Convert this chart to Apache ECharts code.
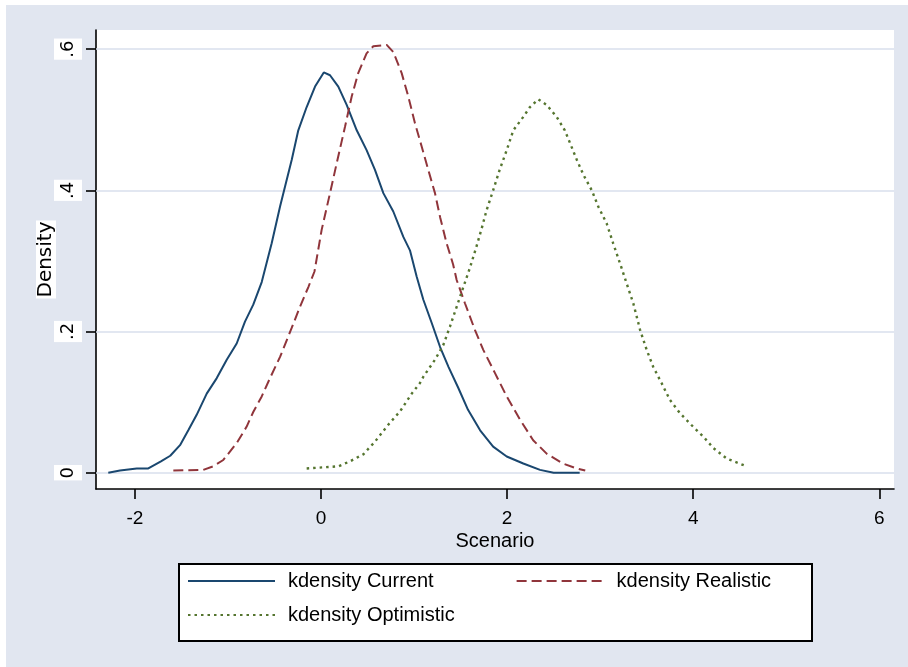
<!DOCTYPE html>
<html>
<head>
<meta charset="utf-8">
<script src="https://cdn.jsdelivr.net/npm/echarts@6/dist/echarts.min.js"></script>
<style>
html,body{margin:0;padding:0;background:#fff;}
#c{position:absolute;left:6px;top:5px;width:902px;height:662px;}
</style>
</head>
<body>
<div id="c"></div>
<script>
// ---- data ----
const seriesNames = ['kdensity Current', 'kdensity Realistic', 'kdensity Optimistic'];

const currentX = [-2.286,-2.16,-1.98,-1.856,-1.72,-1.62,-1.515,-1.426,-1.336,-1.228,-1.12,-1.013,-0.906,-0.817,-0.728,-0.637,-0.53,-0.44,-0.387,-0.315,-0.244,-0.154,-0.064,0.03,0.097,0.186,0.276,0.384,0.49,0.58,0.67,0.777,0.885,0.956,1.028,1.10,1.19,1.28,1.37,1.476,1.58,1.71,1.85,1.996,2.174,2.354,2.50,2.78];
const currentY = [0,0.003,0.006,0.006,0.016,0.024,0.039,0.060,0.082,0.112,0.134,0.160,0.183,0.214,0.238,0.270,0.325,0.377,0.405,0.443,0.485,0.518,0.547,0.567,0.563,0.547,0.521,0.485,0.457,0.429,0.396,0.370,0.334,0.315,0.278,0.245,0.212,0.178,0.150,0.120,0.089,0.060,0.037,0.023,0.013,0.004,0,0];

const realisticX = [-1.587,-1.265,-1.16,-1.05,-0.906,-0.80,-0.728,-0.637,-0.548,-0.44,-0.315,-0.226,-0.136,-0.07,0.007,0.097,0.168,0.258,0.33,0.40,0.49,0.562,0.706,0.777,0.867,0.938,1.01,1.082,1.153,1.225,1.28,1.35,1.42,1.458,1.547,1.655,1.744,1.87,1.996,2.14,2.28,2.425,2.60,2.75,2.84];
const realisticY = [0.003,0.004,0.009,0.018,0.042,0.065,0.086,0.108,0.134,0.164,0.205,0.235,0.263,0.285,0.344,0.396,0.438,0.490,0.533,0.566,0.594,0.604,0.606,0.596,0.566,0.533,0.495,0.462,0.429,0.396,0.362,0.325,0.295,0.273,0.240,0.202,0.174,0.141,0.108,0.075,0.046,0.027,0.013,0.006,0.003];

const optimisticX = [-0.154,0.186,0.31,0.455,0.58,0.723,0.85,0.975,1.064,1.10,1.225,1.315,1.386,1.458,1.53,1.60,1.67,1.727,1.78,1.85,1.92,1.996,2.067,2.174,2.246,2.335,2.425,2.533,2.62,2.676,2.75,2.82,2.91,2.98,3.07,3.14,3.23,3.285,3.356,3.43,3.50,3.57,3.66,3.75,3.86,4.0,4.11,4.216,4.36,4.575];
const optimisticY = [0.006,0.009,0.016,0.026,0.044,0.068,0.087,0.112,0.127,0.136,0.160,0.181,0.207,0.235,0.263,0.290,0.320,0.346,0.372,0.400,0.429,0.457,0.485,0.504,0.518,0.529,0.521,0.504,0.485,0.467,0.443,0.422,0.400,0.377,0.353,0.325,0.290,0.268,0.240,0.202,0.174,0.150,0.127,0.103,0.084,0.065,0.051,0.035,0.020,0.009];

const xTicks = [-2, 0, 2, 4, 6];
const xTickLabels = ['-2', '0', '2', '4', '6'];
const yTicks = [0, 0.2, 0.4, 0.6];
const yTickLabels = ['0', '.2', '.4', '.6'];
const xTitle = 'Scenario';
const yTitle = 'Density';

// ---- build ----
function pairs(xs, ys) { return xs.map((x, i) => [x, ys[i]]); }
const colors = ['#1A476F', '#90353B', '#55752F'];
const font = 'Liberation Sans, Arial, Helvetica, sans-serif';

const chart = echarts.init(document.getElementById('c'));
const legendCommon = {
  padding: 0, itemWidth: 87, itemHeight: 14,
  itemStyle: { opacity: 0 },
  textStyle: { fontSize: 20, fontFamily: font, color: '#000', padding: [0, 0, 0, 8] }
};
chart.setOption({
  animation: false,
  backgroundColor: '#E1E6F0',
  grid: { left: 90, top: 25, right: 14, bottom: 178, show: true, backgroundColor: '#fff', borderWidth: 0 },
  xAxis: {
    type: 'value', min: -2.418, max: 6.158,
    name: xTitle, nameLocation: 'middle', nameGap: 42, nameMoveOverlap: false,
    nameTextStyle: { fontSize: 20, fontFamily: font, color: '#000' },
    axisLine: { show: true, onZero: false, lineStyle: { color: '#000', width: 1.6 } },
    axisTick: { show: true, length: 10, customValues: xTicks, lineStyle: { color: '#000', width: 1.6 } },
    axisLabel: {
      customValues: xTicks, margin: 20, fontSize: 19, fontFamily: font, color: '#000',
      formatter: v => xTickLabels[xTicks.indexOf(v)]
    },
    splitLine: { show: false }
  },
  yAxis: {
    type: 'value', min: -0.0231, max: 0.6271,
    name: yTitle, nameLocation: 'middle', nameGap: 40, nameMoveOverlap: false,
    nameTextStyle: { fontSize: 20, fontFamily: 'DejaVu Sans, sans-serif', color: '#000', backgroundColor: '#fff', padding: [0, 1] },
    axisLine: { show: true, onZero: false, lineStyle: { color: '#000', width: 1.6 } },
    axisTick: { show: true, length: 10, customValues: yTicks, lineStyle: { color: '#000', width: 1.6 } },
    axisLabel: {
      customValues: yTicks, rotate: 90, margin: 14, fontSize: 18, fontFamily: 'DejaVu Sans, sans-serif', color: '#000',
      backgroundColor: '#fff', padding: [4, 2], lineHeight: 20,
      formatter: v => yTickLabels[yTicks.indexOf(v)]
    },
    splitLine: { show: false }
  },
  legend: [
    Object.assign({ data: [seriesNames[0], seriesNames[1]], left: 181, top: 566, itemGap: 82 }, legendCommon),
    Object.assign({ data: [seriesNames[2]], left: 181, top: 600 }, legendCommon)
  ],
  graphic: [{
    type: 'rect', left: 172, top: 558, z: 0,
    shape: { width: 633, height: 77 },
    style: { fill: '#fff', stroke: '#000', lineWidth: 2 }
  }],
  series: [
    {
      name: seriesNames[0], type: 'line', data: pairs(currentX, currentY), symbol: 'none',
      lineStyle: { color: colors[0], width: 2 }, itemStyle: { color: colors[0] }, z: 3,
      markLine: {
        silent: true, symbol: 'none', z: 1, label: { show: false },
        lineStyle: { color: '#D8DFEC', width: 1.6, type: 'solid' },
        data: yTicks.map(v => ({ yAxis: v }))
      }
    },
    {
      name: seriesNames[1], type: 'line', data: pairs(realisticX, realisticY), symbol: 'none',
      lineStyle: { color: colors[1], width: 2, type: [10, 5] }, itemStyle: { color: colors[1] }, z: 3
    },
    {
      name: seriesNames[2], type: 'line', data: pairs(optimisticX, optimisticY), symbol: 'none',
      lineStyle: { color: colors[2], width: 2.4, type: [2.5, 4] }, itemStyle: { color: colors[2] }, z: 3
    }
  ]
});
</script>
</body>
</html>
